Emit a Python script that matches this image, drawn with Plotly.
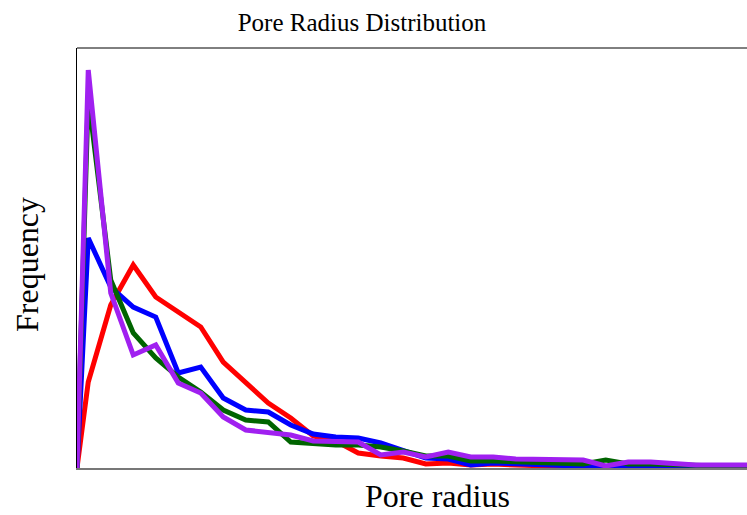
import plotly.graph_objects as go

# bin positions (pore radius, arbitrary units)
radius = [0] + [k + 0.5 for k in range(31)]

red = [0, 86, 163, 203, 171, 156, 141, 106, 86, 65, 50, 32,
       27, 15, 12, 10, 4, 5, 3, 4, 3, 2, 1, 1, 1, 0.5, 0.5, 0.5, 0.5, 0.5, 0.5, 0.5]
blue = [0, 230, 181, 161, 151, 95, 101, 70, 58, 56, 43, 34,
        31, 30, 25, 18, 10, 9, 3, 5, 4, 3, 2, 2, 1, 1, 1, 1, 1, 1, 1, 1]
green = [0, 372, 188, 135, 110, 91, 76, 58, 48, 46, 26, 24,
         23, 23, 21, 17, 12, 12, 7, 7, 6, 5, 4, 4, 8, 4, 4, 3, 3, 2, 2, 2]
purple = [0, 398, 175, 113, 123, 85, 75, 51, 38, 36, 33, 27,
          26, 26, 13, 16, 11, 16, 11, 11, 9, 9, 8, 8, 2, 6, 6, 4, 3, 3, 3, 3]

series = [("red", red, "#ff0000"), ("blue", blue, "#0000ff"),
          ("green", green, "#006400"), ("purple", purple, "#a020f0")]

title_text = "Pore Radius Distribution"
xlabel = "Pore radius"
ylabel = "Frequency"

W, H = 747, 515
L, R, T, B = 77, 0, 48, 47
pw, ph = W - L - R, H - T - B

fig = go.Figure()
for name, vals, col in series:
    fig.add_trace(go.Scatter(x=radius, y=vals, mode="lines", name=name,
                             line=dict(color=col, width=5), showlegend=False))

serif = "Liberation Serif, Times New Roman, serif"

fig.update_layout(
    width=W, height=H,
    margin=dict(l=L, r=R, t=T, b=B),
    paper_bgcolor="white", plot_bgcolor="white",
    title=dict(text=title_text, font=dict(family=serif, size=25, color="black"),
               xref="paper", x=(362 - L) / pw, xanchor="center",
               yref="container", y=1 - 22 / H, yanchor="middle"),
    xaxis=dict(range=[0, pw / 22.5], showgrid=False, zeroline=False,
               showticklabels=False, ticks="", showline=True,
               linecolor="#777777", linewidth=2),
    yaxis=dict(range=[0, ph], showgrid=False, zeroline=False,
               showticklabels=False, ticks="", showline=True,
               linecolor="black", linewidth=1),
    shapes=[dict(type="line", xref="paper", yref="paper", x0=0, x1=1, y0=1, y1=1,
                 line=dict(color="black", width=1))],
    annotations=[
        dict(text=xlabel, xref="paper", yref="paper",
             x=(437 - L) / pw, y=(468 - 496) / ph, xanchor="center", yanchor="middle",
             showarrow=False, font=dict(family=serif, size=32, color="black")),
        dict(text=ylabel, xref="paper", yref="paper",
             x=(27 - L) / pw, y=(468 - 265) / ph, xanchor="center", yanchor="middle",
             textangle=-90, showarrow=False,
             font=dict(family=serif, size=32, color="black")),
    ],
)

fig.write_html("out.html", config={"displayModeBar": False},
               post_script="document.body.style.margin='0';document.body.style.overflow='hidden';")
